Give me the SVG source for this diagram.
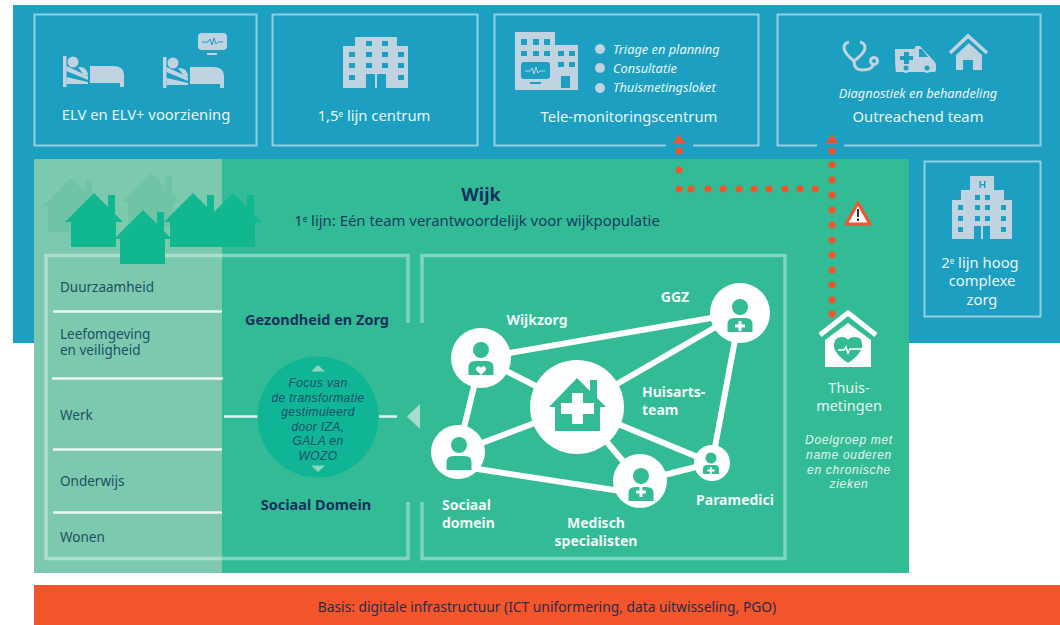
<svg xmlns="http://www.w3.org/2000/svg" width="1060" height="625" viewBox="0 0 1060 625">
<style>
text{font-family:"Noto Sans","Open Sans","Liberation Sans",sans-serif}
.box{fill:none;stroke:#8fd0e1;stroke-width:2}
.frame{fill:none;stroke:#fff;stroke-opacity:.38;stroke-width:3.500}
.ic{fill:#bfd3e0}
.win{fill:#1c9fc0}
.w{fill:#fff}
.tb{font-size:14.800px;fill:#e8f6fa;text-anchor:middle}
.it{font-size:12.800px;fill:#e8f6fa;font-style:italic}
.side{font-size:13.500px;fill:#1d4f68}
.head{font-size:14.500px;font-weight:700;fill:#17305f;text-anchor:middle}
.foc{font-family:"Liberation Sans",Arial,sans-serif;font-size:12px;letter-spacing:.4px;font-style:italic;fill:#17506a;text-anchor:middle}
.net{font-size:14px;font-weight:700;fill:#eefaf6}
.mid{text-anchor:middle}
.link{stroke:#fff;stroke-width:6;fill:none}
.div{stroke:#fff;stroke-opacity:.85;stroke-width:2.500}
.dot{fill:#f2552c}
.gr{fill:#33bb96}
.sup{font-size:8px}
.doel{font-family:"Liberation Sans",Arial,sans-serif;font-size:12px;letter-spacing:.7px;font-style:italic;fill:#e3f6ef;text-anchor:middle}
</style>
<defs>
<g id="house"><path d="M14 2h7v20h-7z"/><path d="M0 0L29 29H22V54H-23V29H-29Z"/></g>
<g id="bed"><rect x="0" y="0" width="3.500" height="31"/><circle cx="10" cy="6" r="5.500"/><path d="M15 11q8 -1 10 7v1h-4z"/><path d="M3.500 10L25 20V24L3.500 15Z"/><path d="M3.500 21L25 26V28H3.500Z"/><path d="M27 10h23q11 0 11 9v12h-4v-4H27z"/></g>
<g id="person"><circle cx="0" cy="-6" r="8"/><path d="M-12.500 19v-8q0 -6 7 -6h11q7 0 7 6v8z"/></g>
<path id="plus" d="M-1.500 -5h3v3.500h3.500v3h-3.500v3.500h-3v-3.500h-3.500v-3h3.500z"/>
</defs>

<rect x="13" y="5" width="1047" height="338" fill="#1c9fc0"/>
<rect x="34" y="159" width="875" height="414" class="gr"/>
<rect x="34" y="159" width="188" height="414" fill="#7cc9ad"/>

<g id="node-elv">
<rect class="box" x="34.500" y="14.500" width="222" height="131"/>
<use href="#bed" x="63" y="56" class="ic"/>
<use href="#bed" x="163" y="57" class="ic"/>
<rect class="ic" x="198" y="33" width="29" height="17" rx="4"/>
<path d="M202 42h6l2 -3 2 6 2 -7 2 6 2 -2h5" fill="none" stroke="#1c9fc0" stroke-width="1"/>
<rect class="ic" x="207" y="53" width="10" height="2"/>
<text class="tb" x="146" y="120">ELV en ELV+ voorziening</text>
</g>

<g id="node-15e">
<rect class="box" x="272.500" y="14.500" width="205" height="131"/>
<path class="ic" d="M355 37h42v9h11v42h-65v-42h12z"/>
<g class="win">
<rect x="366" y="41" width="6" height="5"/><rect x="382" y="41" width="6" height="5"/>
<rect x="349" y="52" width="6" height="5"/><rect x="366" y="52" width="6" height="5"/><rect x="382" y="52" width="6" height="5"/><rect x="398" y="52" width="6" height="5"/>
<rect x="349" y="63" width="6" height="5"/><rect x="366" y="63" width="6" height="5"/><rect x="382" y="63" width="6" height="5"/><rect x="398" y="63" width="6" height="5"/>
<rect x="349" y="75" width="6" height="5"/><rect x="398" y="75" width="6" height="5"/>
<rect x="366" y="74" width="9" height="14"/><rect x="377" y="74" width="9" height="14"/>
</g>
<text class="tb" x="374" y="121" font-size="14.500">1,5<tspan class="sup" dy="-4">e</tspan><tspan dy="4"> lijn centrum</tspan></text>
</g>

<g id="node-tele">
<path class="box" d="M666 145.500H494.500V14.500H758.500V145.500H693"/>
<path class="ic" d="M515 32h40v13h23v45h-63z"/>
<g class="win">
<rect x="521" y="39" width="6" height="6"/><rect x="533" y="39" width="6" height="6"/><rect x="544" y="39" width="6" height="6"/>
<rect x="521" y="51" width="6" height="5"/><rect x="533" y="51" width="6" height="5"/><rect x="544" y="51" width="6" height="5"/><rect x="558" y="51" width="6" height="5"/><rect x="569" y="51" width="6" height="5"/>
<rect x="558" y="62" width="6" height="5"/><rect x="569" y="62" width="6" height="5"/>
<rect x="521" y="62" width="29" height="17" rx="3"/>
<rect x="561" y="76" width="9" height="12"/>
<rect x="530" y="82" width="11" height="2"/>
</g>
<path d="M525 71h5l2 -3 2 6 2 -7 2 6 2 -2h5" fill="none" stroke="#bfd3e0" stroke-width="1"/>
<circle class="ic" cx="600" cy="49" r="5"/><circle class="ic" cx="600" cy="68" r="5"/><circle class="ic" cx="600" cy="88" r="5"/>
<text class="it" x="613" y="54">Triage en planning</text>
<text class="it" x="613" y="73">Consultatie</text>
<text class="it" x="613" y="92">Thuismetingsloket</text>
<text class="tb" x="629" y="122">Tele-monitoringscentrum</text>
</g>

<g id="node-outreach">
<path class="box" d="M817 145.500H777.500V14.500H1040.500V145.500H844"/>
<g fill="none" stroke="#bfd3e0" stroke-width="3">
<path d="M849 42q-5 1 -5 6q0 5 10 13q11 -8 11 -13q0 -5 -5 -6"/>
<path d="M854 61q0 9 8 9q10 0 11 -5"/>
<circle cx="874" cy="61" r="3.500"/>
</g>
<path class="ic" d="M895 49h19l2 -3h4l14 15l2 3v6q0 2 -2 2h-38q-1 -3 -1 -23z"/>
<circle class="ic" cx="906" cy="68" r="5"/><circle class="ic" cx="927" cy="68" r="5"/>
<circle class="win" cx="906" cy="68" r="2.500"/><circle class="win" cx="927" cy="68" r="2.500"/>
<path class="win" d="M904 52h5v4h4v4h-4v4h-5v-4h-4v-4h4zM919 49h3l6 8h-9z"/>
<path d="M950 53L968 36 987 53" fill="none" stroke="#bfd3e0" stroke-width="3.500"/>
<path class="ic" d="M969 43l13 12v15h-9v-10h-10v10h-7v-15z"/>
<text class="it mid" x="918" y="98">Diagnostiek en behandeling</text>
<text class="tb" x="918" y="122">Outreachend team</text>
</g>

<g id="node-tweede">
<rect class="box" x="924.500" y="161.500" width="116" height="155"/>
<path class="ic" d="M970 176h24v14h10v10h8v39h-60v-39h9v-10h9z"/>
<g class="win">
<rect x="979.500" y="181" width="1.500" height="7"/><rect x="984" y="181" width="1.500" height="7"/><rect x="980" y="184" width="5" height="1.500"/>
<rect x="975" y="195" width="5" height="5"/><rect x="985" y="195" width="5" height="5"/>
<rect x="958" y="205" width="5" height="5"/><rect x="975" y="205" width="5" height="5"/><rect x="985" y="205" width="5" height="5"/><rect x="1001" y="205" width="5" height="5"/>
<rect x="958" y="216" width="5" height="5"/><rect x="975" y="216" width="5" height="5"/><rect x="985" y="216" width="5" height="5"/><rect x="1001" y="216" width="5" height="5"/>
<rect x="958" y="227" width="5" height="5"/><rect x="1001" y="227" width="5" height="5"/>
<rect x="974" y="226" width="7" height="13"/><rect x="983" y="226" width="7" height="13"/>
</g>
<text class="tb" x="980" y="268" font-size="14.500">2<tspan class="sup" dy="-4">e</tspan><tspan dy="4"> lijn hoog</tspan></text>
<text class="tb" x="982" y="286">complexe</text>
<text class="tb" x="982" y="305">zorg</text>
</g>

<g id="node-wijk">
<use href="#house" x="71" y="178" fill="#6fc4a6"/>
<use href="#house" x="151" y="173" fill="#6fc4a6"/>
<path class="frame" d="M408 323V255.500H46V558.500H408V502"/>
<path class="frame" d="M422 323V255.500H785V558.500H422V502"/>
<use href="#house" x="94" y="193" fill="#10b78f"/>
<use href="#house" x="233" y="193" fill="#10b78f"/>
<use href="#house" x="193" y="193" fill="#10b78f"/>
<use href="#house" x="143" y="210" fill="#10b78f"/>
<text x="481" y="201" text-anchor="middle" font-size="18" font-weight="700" fill="#17305f">Wijk</text>
<text x="477" y="226" text-anchor="middle" font-size="14.900" fill="#17405f">1<tspan class="sup" dy="-4">e</tspan><tspan dy="4"> lijn: Eén team verantwoordelijk voor wijkpopulatie</tspan></text>
</g>

<g id="node-domeinen">
<line class="div" x1="53" y1="311.500" x2="222" y2="311.500"/>
<line class="div" x1="52" y1="378.500" x2="223" y2="378.500"/>
<line class="div" x1="53" y1="449.500" x2="222" y2="449.500"/>
<line class="div" x1="53" y1="512.500" x2="222" y2="512.500"/>
<text class="side" x="60" y="292">Duurzaamheid</text>
<text class="side" x="60" y="339">Leefomgeving</text>
<text class="side" x="60" y="355">en veiligheid</text>
<text class="side" x="60" y="420">Werk</text>
<text class="side" x="60" y="486">Onderwijs</text>
<text class="side" x="60" y="542">Wonen</text>
<text class="head" x="317" y="325">Gezondheid en Zorg</text>
<text class="head" x="316" y="510">Sociaal Domein</text>
</g>

<g id="node-focus">
<line class="div" x1="224" y1="416.500" x2="259" y2="416.500"/>
<line class="div" x1="379" y1="416.500" x2="397" y2="416.500"/>
<circle cx="318" cy="417" r="60.500" fill="#10b595"/>
<path d="M420 404V429L407 416.500Z" fill="#a6dccb"/>
<path d="M311 371.500L318 365 325 371.500Z" fill="#8dd5bd"/>
<path d="M311 465.500L318 472 325 465.500Z" fill="#8dd5bd"/>
<text class="foc" x="318" y="387">Focus van</text>
<text class="foc" x="318" y="401.500">de transformatie</text>
<text class="foc" x="318" y="416">gestimuleerd</text>
<text class="foc" x="318" y="430.500">door IZA,</text>
<text class="foc" x="318" y="445">GALA en</text>
<text class="foc" x="318" y="459.500">WOZO</text>
</g>

<g id="connectors">
<g class="link">
<line x1="481" y1="358" x2="740" y2="313"/>
<line x1="577" y1="407" x2="740" y2="313"/>
<line x1="740" y1="313" x2="712" y2="463"/>
<line x1="577" y1="407" x2="712" y2="463"/>
<line x1="577" y1="407" x2="640" y2="481"/>
<line x1="640" y1="481" x2="712" y2="463"/>
<line x1="458" y1="466" x2="640" y2="494"/>
<line x1="458" y1="452" x2="577" y2="407"/>
<line x1="481" y1="358" x2="458" y2="452"/>
<line x1="481" y1="358" x2="577" y2="407"/>
</g>
<g class="dot">
<path d="M679 134l6 9h-12zM832 134l6 9h-12z"/>
<circle cx="679" cy="151" r="3.500"/><circle cx="679" cy="170" r="3.500"/>
<circle cx="679" cy="189" r="3.500"/><circle cx="691" cy="189" r="3.500"/><circle cx="708" cy="189" r="3.500"/><circle cx="723" cy="189" r="3.500"/><circle cx="739" cy="189" r="3.500"/><circle cx="754" cy="189" r="3.500"/><circle cx="769" cy="189" r="3.500"/><circle cx="785" cy="189" r="3.500"/><circle cx="800" cy="189" r="3.500"/><circle cx="815" cy="189" r="3.500"/>
<circle cx="832" cy="151" r="3.500"/><circle cx="832" cy="165" r="3.500"/><circle cx="832" cy="180" r="3.500"/><circle cx="832" cy="195" r="3.500"/><circle cx="832" cy="210" r="3.500"/><circle cx="832" cy="225" r="3.500"/><circle cx="832" cy="240" r="3.500"/><circle cx="832" cy="255" r="3.500"/><circle cx="832" cy="270" r="3.500"/><circle cx="832" cy="285" r="3.500"/><circle cx="832" cy="300" r="3.500"/><circle cx="832" cy="314" r="3.500"/>
</g>
</g>

<g id="node-waarschuwing">
<path d="M858 203L870 224H846Z" fill="#fff" stroke="#f2552c" stroke-width="3" stroke-linejoin="round"/>
<rect x="857" y="209" width="2" height="8" fill="#333"/><rect x="857" y="218.500" width="2" height="2.500" fill="#333"/>
</g>

<g id="node-huisarts">
<circle class="w" cx="577" cy="407" r="47"/>
<path class="gr" d="M590 380h7v22l-7 -7z"/>
<path class="gr" d="M577 378L606 407H600V431H555V407H549Z"/>
<path class="w" d="M572 393h11v10h11v11h-11v10h-11v-10h-11v-11h11z"/>
<text class="net" x="642" y="397">Huisarts-</text>
<text class="net" x="642" y="415">team</text>
</g>
<g id="node-ggz">
<circle class="w" cx="740" cy="313" r="30"/>
<use href="#person" x="740" y="313" class="gr"/>
<use href="#plus" x="740" y="326" class="w"/>
<text class="net mid" x="675" y="302">GGZ</text>
</g>
<g id="node-wijkzorg">
<circle class="w" cx="481" cy="358" r="30"/>
<use href="#person" x="481" y="356" class="gr"/>
<path class="w" d="M481 375l-4.500 -4.500q-1.500 -3 1 -4t3.500 1.500q1 -2.500 3.500 -1.500t1 4z"/>
<text class="net mid" x="537" y="325">Wijkzorg</text>
</g>
<g id="node-sociaal">
<circle class="w" cx="458" cy="452" r="27"/>
<use href="#person" x="459" y="451" class="gr"/>
<text class="net" x="442" y="510">Sociaal</text>
<text class="net" x="442" y="528">domein</text>
</g>
<g id="node-medisch">
<circle class="w" cx="640" cy="481" r="27"/>
<use href="#person" x="641" y="482" class="gr"/>
<use href="#plus" x="641" y="492" class="w"/>
<text class="net mid" x="596" y="528">Medisch</text>
<text class="net mid" x="596" y="546">specialisten</text>
</g>
<g id="node-paramedici">
<circle class="w" cx="712" cy="463" r="18"/>
<circle class="gr" cx="711" cy="458" r="5.500"/>
<path class="gr" d="M703 474v-5q0 -4 4 -4h8q4 0 4 4v5z"/>
<path class="w" d="M710 467h2v2.500h2.500v2h-2.500v2.500h-2v-2.500h-2.500v-2h2.500z"/>
<text class="net mid" x="735" y="505">Paramedici</text>
</g>

<g id="node-thuis">
<path d="M820 335L848 313 876 335" fill="none" stroke="#fff" stroke-width="5"/>
<path class="w" d="M848 323L871 340V367H825V340Z"/>
<path class="gr" d="M848 363Q833 353 834 344Q835 337 842 337Q846 337 848 340Q850 337 855 337Q862 337 862 344Q863 353 848 363Z"/>
<path d="M838 350h6l2 -3 2 6 2 -4h12" fill="none" stroke="#fff" stroke-width="1.500"/>
<text class="mid" x="849" y="393" font-size="14.500" fill="#e3f6ef">Thuis-</text>
<text class="mid" x="849" y="411" font-size="14.500" fill="#e3f6ef">metingen</text>
<text class="doel" x="849" y="444">Doelgroep met</text>
<text class="doel" x="849" y="459">name ouderen</text>
<text class="doel" x="849" y="473.500">en chronische</text>
<text class="doel" x="849" y="488">zieken</text>
</g>

<g id="node-basis">
<rect x="34" y="585" width="1026" height="40" fill="#f4562b"/>
<text x="547" y="612" text-anchor="middle" font-size="13.800" fill="#2b2a4a">Basis: digitale infrastructuur (ICT uniformering, data uitwisseling, PGO)</text>
</g>
</svg>
